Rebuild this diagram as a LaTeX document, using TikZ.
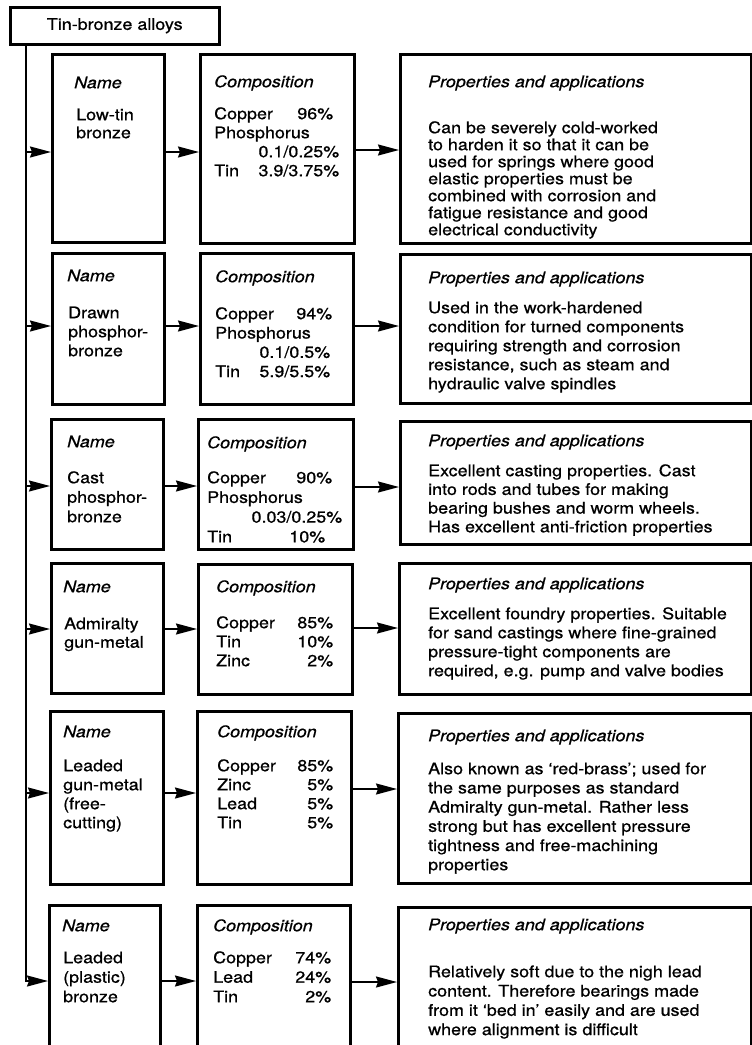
\documentclass[tikz,border=0pt]{standalone}
\usepackage{fontspec}
\setmainfont{TeX Gyre Heros}[FakeStretch=1.12,FakeBold=0.7]
\usetikzlibrary{arrows.meta}
\tikzset{
  box/.style={draw=black,line width=2.5pt,rectangle,inner sep=0pt},
  txt/.style={anchor=north west,inner sep=0pt,align=left},
  conn/.style={line width=1.7pt},
  arr/.style={line width=1.7pt,-{Stealth[length=21pt,width=11pt,inset=2pt]}}
}
\newcommand\bx[5]{\node[box,anchor=north west,minimum width={#4-#2},minimum height={#5-#3}] (#1) at (#2,-#3) {};}
\newcommand\tx[5]{\node[txt,font=\fontsize{16}{#4}\selectfont] (#1) at (#2,{13-#3}) {\rule{0pt}{13pt}#5};}
\newcommand\hd[4]{\node[txt,font=\fontsize{16}{19}\selectfont\itshape] (#1) at (#2,{13-#3}) {\rule{0pt}{13pt}#4};}
\newcommand\rl[3]{\hbox to #1pt{#2\hfill #3}}
\begin{document}
\begin{tikzpicture}[x=1pt,y=1pt]
\useasboundingbox (0,0) rectangle (752,-1045);
\clip (0,0) rectangle (752,-1045);
\fill[white] (0,0) rectangle (752,-1045);
% title
\node[box,anchor=north west,minimum width=209,minimum height=37,font=\fontsize{16}{19}\selectfont] (title) at (9,-6) {Tin-bronze alloys};
% row 1
\bx{n1}{51}{53}{163}{241}
\bx{c1}{199}{53}{353}{242}
\bx{p1}{399}{53}{750}{242}
\hd{n1h}{74}{88}{Name}
\tx{n1t}{76}{120}{18}{Low-tin\\bronze}
\hd{c1h}{214}{87}{Composition}
\tx{c1t}{214}{119}{19}{\rl{119}{Copper}{96\%}\\Phosphorus\\\rl{125}{}{0.1/0.25\%}\\\rl{125}{Tin}{3.9/3.75\%}}
\hd{p1h}{428}{87}{Properties and applications}
\tx{p1t}{428}{133}{17}{Can be severely cold-worked\\to harden it so that it can be\\used for springs where good\\elastic properties must be\\combined with corrosion and\\fatigue resistance and good\\electrical conductivity}
% row 2
\bx{n2}{51}{252}{163}{403}
\bx{c2}{199}{252}{352}{403}
\bx{p2}{399}{253}{750}{402}
\hd{n2h}{67}{281}{Name}
\tx{n2t}{68}{318}{19}{Drawn\\phosphor-\\bronze}
\hd{c2h}{215}{282}{Composition}
\tx{c2t}{215}{319}{19.3}{\rl{117}{Copper}{94\%}\\Phosphorus\\\rl{115}{}{0.1/0.5\%}\\\rl{115}{Tin}{5.9/5.5\%}}
\hd{p2h}{428}{283}{Properties and applications}
\tx{p2t}{428}{313}{19}{Used in the work-hardened\\condition for turned components\\requiring strength and corrosion\\resistance, such as steam and\\hydraulic valve spindles}
% row 3
\bx{n3}{50}{418}{162}{548}
\bx{c3}{197}{418}{352}{548}
\bx{p3}{399}{420}{750}{543}
\hd{n3h}{67}{447}{Name}
\tx{n3t}{67}{483}{19.5}{Cast\\phosphor-\\bronze}
\hd{c3h}{207}{448}{Composition}
\tx{c3t}{207}{483}{19.7}{\rl{125}{Copper}{90\%}\\Phosphorus\\\rl{135}{}{0.03/0.25\%}\\\rl{118}{Tin}{10\%}}
\hd{p3h}{428}{446}{Properties and applications}
\tx{p3t}{428}{476}{18.7}{Excellent casting properties. Cast\\into rods and tubes for making\\bearing bushes and worm wheels.\\Has excellent anti-friction properties}
% row 4
\bx{n4}{50}{562}{162}{692}
\bx{c4}{197}{563}{351}{693}
\bx{p4}{398}{562}{750}{693}
\hd{n4h}{63}{592}{Name}
\tx{n4t}{64}{629}{18.5}{Admiralty\\gun-metal}
\hd{c4h}{216}{592}{Composition}
\tx{c4t}{216}{628}{19}{\rl{117}{Copper}{85\%}\\\rl{117}{Tin}{10\%}\\\rl{117}{Zinc}{2\%}}
\hd{p4h}{428}{589}{Properties and applications}
\tx{p4t}{428}{619}{19}{Excellent foundry properties. Suitable\\for sand castings where fine-grained\\pressure-tight components are\\required, e.g. pump and valve bodies}
% row 5
\bx{n5}{49}{710}{162}{883}
\bx{c5}{196}{710}{350}{883}
\bx{p5}{397}{712}{750}{882}
\hd{n5h}{63}{737}{Name}
\tx{n5t}{63}{771}{19}{Leaded\\gun-metal\\(free-\\cutting)}
\hd{c5h}{217}{737}{Composition}
\tx{c5t}{217}{771}{19}{\rl{116}{Copper}{85\%}\\\rl{116}{Zinc}{5\%}\\\rl{116}{Lead}{5\%}\\\rl{116}{Tin}{5\%}}
\hd{p5h}{428}{741}{Properties and applications}
\tx{p5t}{428}{774}{19.2}{Also known as `red-brass'; used for\\the same purposes as standard\\Admiralty gun-metal. Rather less\\strong but has excellent pressure\\tightness and free-machining\\properties}
% row 6
\bx{n6}{48}{904}{159}{1062}
\bx{c6}{196}{904}{349}{1062}
\bx{p6}{397}{906}{750}{1062}
\hd{n6h}{62}{931}{Name}
\tx{n6t}{63}{963}{19.5}{Leaded\\(plastic)\\bronze}
\hd{c6h}{213}{931}{Composition}
\tx{c6t}{213}{963}{19.5}{\rl{118}{Copper}{74\%}\\\rl{118}{Lead}{24\%}\\\rl{118}{Tin}{2\%}}
\hd{p6h}{428}{930}{Properties and applications}
\tx{p6t}{428}{977}{19.3}{Relatively soft due to the nigh lead\\content. Therefore bearings made\\from it `bed in' easily and are used\\where alignment is difficult}
% connectors
\coordinate (s1) at (26,-152); \coordinate (q1) at (26,-150);
\coordinate (s2) at (26,-326); \coordinate (q2) at (26,-326);
\coordinate (s3) at (26,-486); \coordinate (q3) at (26,-487);
\coordinate (s4) at (26,-629); \coordinate (q4) at (26,-628);
\coordinate (s5) at (26,-793); \coordinate (q5) at (26,-789);
\coordinate (s6) at (26,-981); \coordinate (q6) at (26,-982);
\draw[arr] (title.south west -| s1) -- (s6) -- (s6 -| n6.west);
\foreach \i in {1,...,5}{\draw[arr] (s\i) -- (s\i -| n\i.west);}
\foreach \i in {1,...,6}{
  \draw[arr] (s\i -| n\i.east) -- (s\i -| c\i.west);
  \draw[arr] (q\i -| c\i.east) -- (q\i -| p\i.west);
}
\end{tikzpicture}
\end{document}
